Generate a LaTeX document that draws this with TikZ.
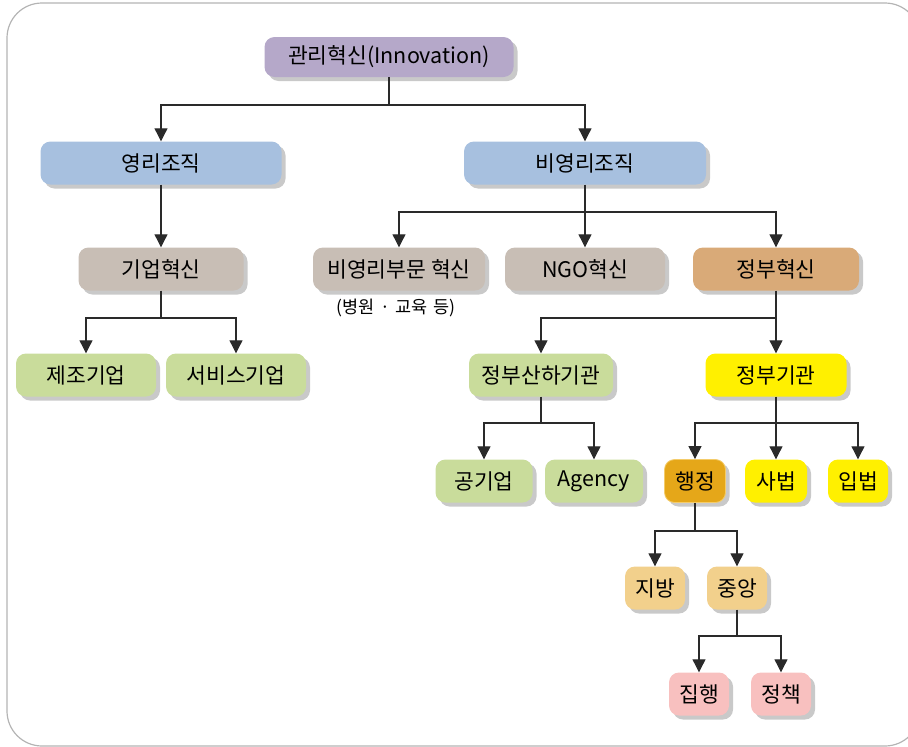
\documentclass[tikz,border=0pt]{standalone}
\usepackage{fontspec}
\setmainfont{Noto Sans CJK KR}
\usetikzlibrary{arrows.meta,shadows}

\definecolor{framegray}{HTML}{B4B4B4}
\definecolor{shadowgray}{HTML}{C9C9C9}
\definecolor{linegray}{HTML}{2A2A2A}
\definecolor{purplebox}{HTML}{B5A8C9}
\definecolor{bluebox}{HTML}{A7C0DF}
\definecolor{taupebox}{HTML}{C8BEB5}
\definecolor{tanbox}{HTML}{D9AA78}
\definecolor{greenbox}{HTML}{C9DC9B}
\definecolor{yellowbox}{HTML}{FFF000}
\definecolor{goldbox}{HTML}{E5A719}
\definecolor{goldedge}{HTML}{F4CC6A}
\definecolor{sandbox}{HTML}{F2D08C}
\definecolor{pinkbox}{HTML}{F8C0BF}

\tikzset{
  box/.style={rectangle, rounded corners=10pt, minimum height=43pt,
    inner sep=0pt, font=\fontsize{21.5}{24}\selectfont, text=black,
    general shadow={fill=shadowgray, shadow xshift=4pt, shadow yshift=-4pt}},
  ln/.style={draw=linegray, line width=1.1pt},
  arr/.style={ln, -{Triangle[width=13pt,length=13pt]}},
}

\begin{document}
\begin{tikzpicture}[x=1pt,y=-1pt]
  \useasboundingbox (0,0) rectangle (908,747);
  \begin{scope}
    \clip (0,0) rectangle (908,747);
    \draw[framegray, line width=1.2pt, rounded corners=35pt] (7,3) rectangle (920,746);
  \end{scope}

  % level 0
  \node[box, fill=purplebox, minimum width=249pt, minimum height=40pt] (top) at (389,57) {관리혁신(Innovation)};

  % level 1
  \node[box, fill=bluebox, minimum width=241pt] (profit) at (161,163) {영리조직};
  \node[box, fill=bluebox, minimum width=242pt] (nonprofit) at (585,163) {비영리조직};

  % level 2
  \node[box, fill=taupebox, minimum width=165pt] (corp) at (161,269) {기업혁신};
  \node[box, fill=taupebox, minimum width=172pt] (npsector) at (399,269) {비영리부문 혁신};
  \node[font=\fontsize{17.5}{20}\selectfont] (npnote) at (396,308) {(병원\,\,·\,\,교육\,\,등)};
  \node[box, fill=taupebox, minimum width=160pt] (ngo) at (585,269) {NGO혁신};
  \node[box, fill=tanbox, minimum width=166pt] (govinnov) at (776,269) {정부혁신};

  % level 3
  \node[box, fill=greenbox, minimum width=140pt] (manuf) at (86,375) {제조기업};
  \node[box, fill=greenbox, minimum width=140pt] (service) at (236,375) {서비스기업};
  \node[box, fill=greenbox, minimum width=144pt] (affil) at (541,375) {정부산하기관};
  \node[box, fill=yellowbox, minimum width=141pt] (gov) at (776,375) {정부기관};

  % level 4
  \node[box, fill=greenbox, minimum width=97pt] (public) at (484,481) {공기업};
  \node[box, fill=greenbox, minimum width=98pt] (agency) at (594,481) {Agency};
  \node[box, fill=goldbox, draw=goldedge, line width=0.8pt, minimum width=61pt] (admin) at (695,481) {행정};
  \node[box, fill=yellowbox, minimum width=62pt] (judic) at (776,481) {사법};
  \node[box, fill=yellowbox, minimum width=60pt] (legis) at (858,481) {입법};

  % level 5
  \node[box, fill=sandbox, minimum width=60pt] (local) at (655,588) {지방};
  \node[box, fill=sandbox, minimum width=60pt] (central) at (737,588) {중앙};

  % level 6
  \node[box, fill=pinkbox, minimum width=60pt] (exec) at (699,694) {집행};
  \node[box, fill=pinkbox, minimum width=60pt] (policy) at (781,694) {정책};

  % junctions
  \coordinate (j0) at (389,105);
  \coordinate (j1) at (585,212);
  \coordinate (j2) at (161,318);
  \coordinate (j3) at (776,318);
  \coordinate (j4) at (541,423);
  \coordinate (j5) at (776,423);
  \coordinate (j6) at (695,531);
  \coordinate (j7) at (737,636);

  % connectors
  \draw[ln] (top.south) -- (j0);
  \draw[arr] (j0) -| (profit.north);
  \draw[arr] (j0) -| (nonprofit.north);

  \draw[arr] (profit.south) -- (corp.north);

  \draw[ln] (nonprofit.south) -- (j1);
  \draw[arr] (j1) -| (npsector.north);
  \draw[arr] (j1) -- (ngo.north);
  \draw[arr] (j1) -| (govinnov.north);

  \draw[ln] (corp.south) -- (j2);
  \draw[arr] (j2) -| (manuf.north);
  \draw[arr] (j2) -| (service.north);

  \draw[ln] (govinnov.south) -- (j3);
  \draw[arr] (j3) -| (affil.north);
  \draw[arr] (j3) -- (gov.north);

  \draw[ln] (affil.south) -- (j4);
  \draw[arr] (j4) -| (public.north);
  \draw[arr] (j4) -| (agency.north);

  \draw[ln] (gov.south) -- (j5);
  \draw[arr] (j5) -| (admin.north);
  \draw[arr] (j5) -- (judic.north);
  \draw[arr] (j5) -| (legis.north);

  \draw[ln] (admin.south) -- (j6);
  \draw[arr] (j6) -| (local.north);
  \draw[arr] (j6) -| (central.north);

  \draw[ln] (central.south) -- (j7);
  \draw[arr] (j7) -| (exec.north);
  \draw[arr] (j7) -| (policy.north);
\end{tikzpicture}
\end{document}
